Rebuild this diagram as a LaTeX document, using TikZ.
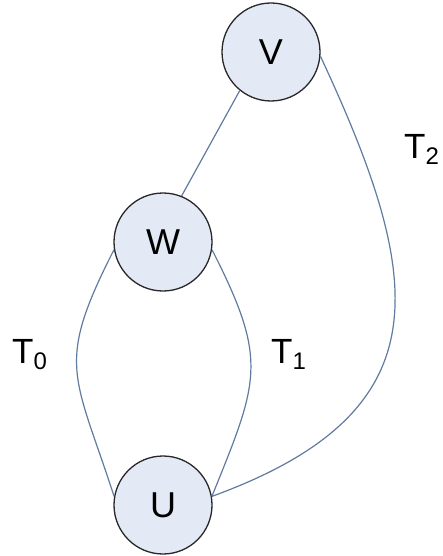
\documentclass[tikz,border=0pt]{standalone}
\usepackage{fontspec}
\setmainfont{Liberation Sans}

\definecolor{vertexfill}{RGB}{228,233,246}
\definecolor{ringgray}{RGB}{40,40,40}
\definecolor{edgeblue}{RGB}{96,122,160}

\newcommand{\tsub}[1]{T\raisebox{-6pt}{\fontsize{24}{24}\selectfont #1}}

\tikzset{
    vertex/.style={circle, draw=ringgray, fill=vertexfill, line width=1.3pt,
        minimum size=98pt, inner sep=0pt, font=\fontsize{36}{36}\selectfont},
    edge/.style={draw=edgeblue, line width=1.2pt},
    tag/.style={anchor=base west, inner sep=0pt, font=\fontsize{35}{35}\selectfont}
}

\begin{document}
\begin{tikzpicture}[x=1pt,y=1pt]
        \useasboundingbox (0,0) rectangle (442,-556);

        % Draw the three vertices
        \foreach \n/\x/\y in {V/271/-52, W/163/-242, U/163/-505} {
            \node[vertex] (\n) at (\x,\y) {\n};
        }

        % Edge between V and W
        \draw[edge] (V.231) -- (W.68);

        % T_0 and T_1 between W and U
        \draw[edge] (W.189) to[out=243, in=108, looseness=1.35] (U.170);
        \draw[edge] (W.351) to[out=-63, in=68, looseness=1.3] (U.10);

        % T_2 from V round to U
        \draw[edge] (V.-5) to[out=-65, in=20, looseness=1.4] (U.10);

        % Tree labels
        \node[tag] (t0) at (12,-363) {\tsub{0}};
        \node[tag] (t1) at (271,-363) {\tsub{1}};
        \node[tag] (t2) at (404,-158) {\tsub{2}};

    \end{tikzpicture}
\end{document}
